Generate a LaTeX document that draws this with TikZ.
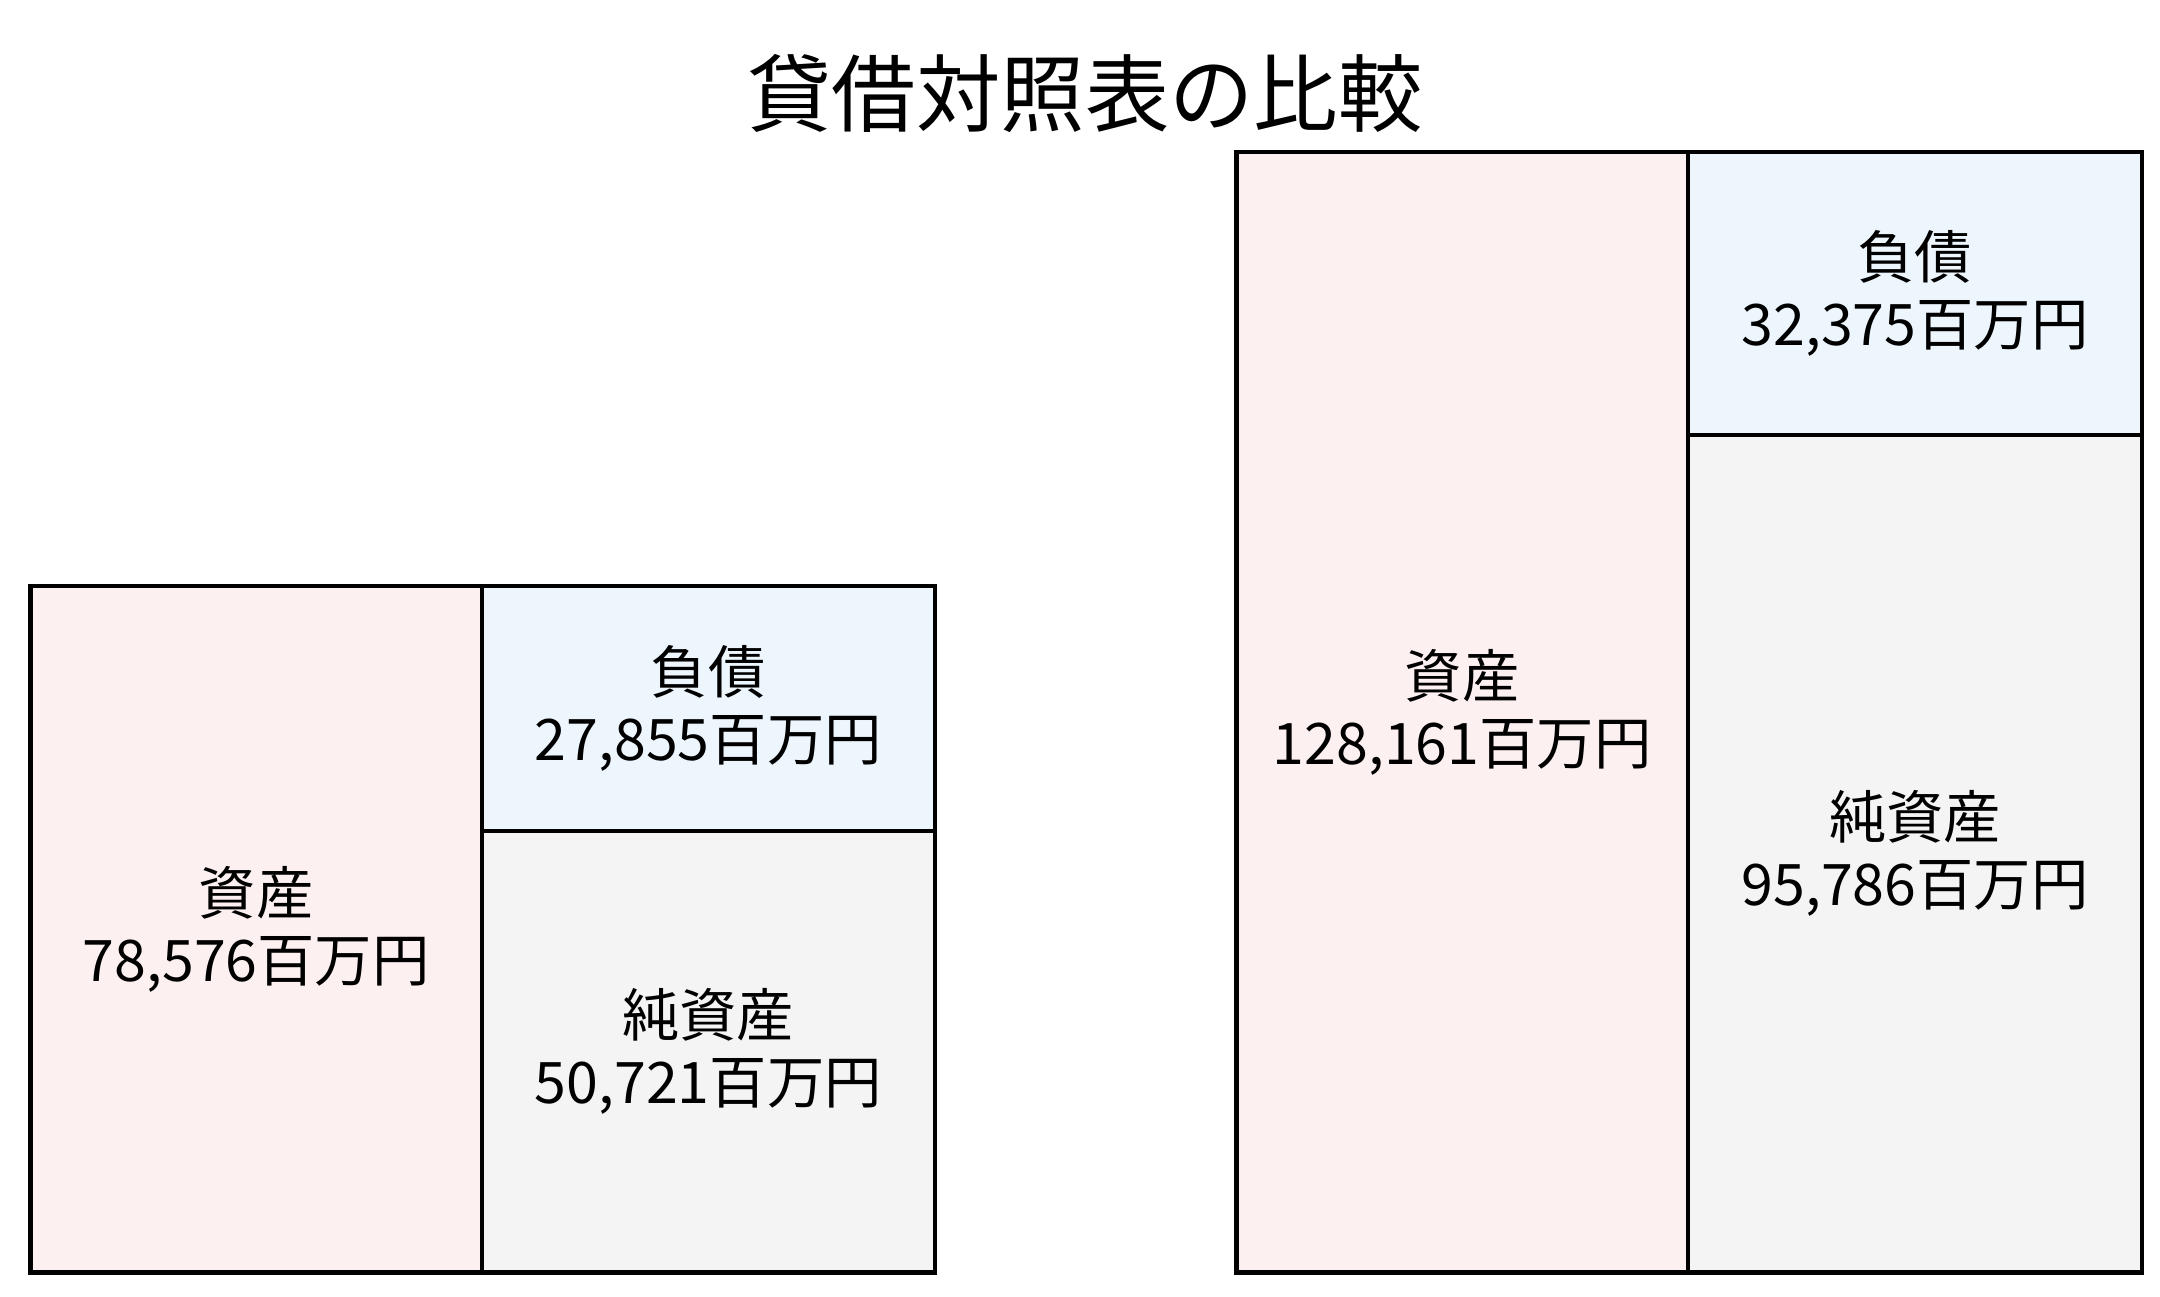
\documentclass[tikz,border=0pt]{standalone}
\usepackage{fontspec}
\setmainfont{Noto Sans CJK JP}
\definecolor{aktivrosa}{HTML}{FDF0F0}
\definecolor{passivblau}{HTML}{EEF6FD}
\definecolor{eigengrau}{HTML}{F4F4F4}
\tikzset{feld/.style={draw=black, line width=1.2pt, inner sep=0pt, align=center, font=\fontsize{16.3}{19}\selectfont}}
\begin{document}
\begin{tikzpicture}
	\useasboundingbox (0,0) rectangle (21.6,12.97);%Rahmen
	\node[font=\fontsize{24}{28}\selectfont] (titel) at (10.85,12.035) {貸借対照表の比較};%Titel
	\node[feld, fill=aktivrosa, minimum width=4.513cm, minimum height=6.868cm] (aktivL) at (2.5615,3.679) {資産\\78,576百万円};%linkes Aktiv
	\node[feld, fill=passivblau, minimum width=4.528cm, minimum height=2.451cm] (schuldL) at (7.082,5.8875) {負債\\27,855百万円};%linke Schulden
	\node[feld, fill=eigengrau, minimum width=4.528cm, minimum height=4.417cm] (eigenL) at (7.082,2.4535) {純資産\\50,721百万円};%linkes Eigenkapital
	\node[feld, fill=aktivrosa, minimum width=4.513cm, minimum height=11.202cm] (aktivR) at (14.6215,5.846) {資産\\128,161百万円};%rechtes Aktiv
	\node[feld, fill=passivblau, minimum width=4.542cm, minimum height=2.825cm] (schuldR) at (19.149,10.0345) {負債\\32,375百万円};%rechte Schulden
	\node[feld, fill=eigengrau, minimum width=4.542cm, minimum height=8.377cm] (eigenR) at (19.149,4.4335) {純資産\\95,786百万円};%rechtes Eigenkapital

\end{tikzpicture}
\end{document}
